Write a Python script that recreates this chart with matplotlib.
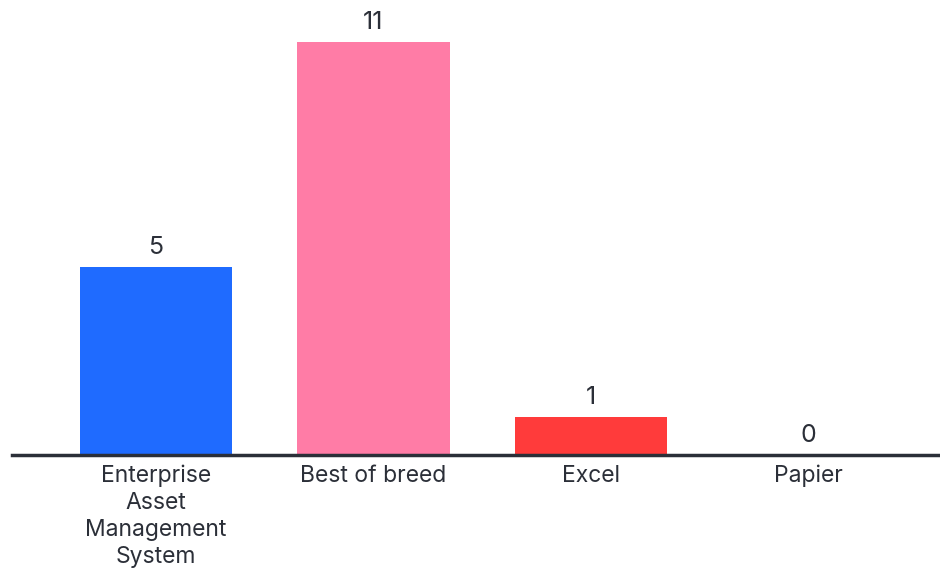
import matplotlib.pyplot as plt

categories = ["Enterprise\nAsset\nManagement\nSystem", "Best of breed", "Excel", "Papier"]
values = [5, 11, 1, 0]
colors = ["#1f6bff", "#ff7ca6", "#ff3b3b", "#cccccc"]

plt.rcParams['font.family'] = ['Inter', 'DejaVu Sans']
text_color = "#2b2f38"

fig = plt.figure(figsize=(9.4, 5.7), dpi=100)
ax = fig.add_axes([0.0, 0.2018, 1.0, 0.7982])

x = range(len(categories))
bars = ax.bar(x, values, width=0.7, color=colors, zorder=2)

for xi, v in zip(x, values):
    ax.text(xi, v + 0.22, str(v), ha="center", va="bottom",
            fontsize=18, color=text_color)

ax.set_xlim(-0.717, 3.605)
ax.set_ylim(0, 12.13)

ax.spines[['top', 'right', 'left']].set_visible(False)
ax.spines['bottom'].set_color(text_color)
ax.spines['bottom'].set_linewidth(2.5)
ax.spines['bottom'].set_bounds(-0.662, 3.605)
ax.set_yticks([])
ax.set_xticks(list(x))
ax.set_xticklabels(categories, fontsize=16.5, color=text_color, linespacing=1.3)
ax.tick_params(axis='x', length=0, pad=7)

fig.savefig("out.png", dpi=100)
